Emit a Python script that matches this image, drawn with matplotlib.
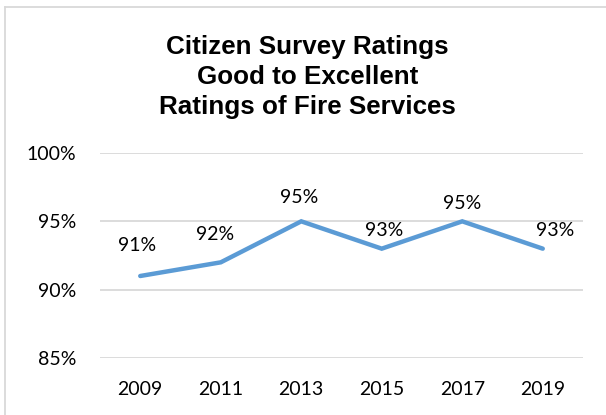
import matplotlib
matplotlib.use("Agg")
import matplotlib.pyplot as plt
from matplotlib.lines import Line2D

years = ["2009", "2011", "2013", "2015", "2017", "2019"]
ratings = [91, 92, 95, 93, 95, 93]
y_ticks = [85, 90, 95, 100]
title_lines = ["Citizen Survey Ratings", "Good to Excellent", "Ratings of Fire Services"]

# label offsets in points (dx, dy) relative to each data point
label_offsets = [(-2.5, 22.3), (-4.3, 20.2), (-1.8, 17.3), (1.8, 13), (0, 13), (9, 13)]

W, H, DPI = 606, 415, 100
fig = plt.figure(figsize=(W / DPI, H / DPI), dpi=DPI)
fig.patch.set_facecolor("white")

# chart frame (top and left edges)
frame_kw = dict(color="#D9D9D9", linewidth=1.3, transform=fig.transFigure)
fig.add_artist(Line2D([5 / W, 1.0], [1 - 7.5 / H, 1 - 7.5 / H], **frame_kw))
fig.add_artist(Line2D([5 / W, 5 / W], [0, 1 - 7.5 / H], **frame_kw))

ax = fig.add_axes([100 / W, 1 - 358 / H, (583 - 100) / W, (358 - 153) / H])
x = list(range(len(years)))
ax.plot(x, ratings, color="#5B9BD5", linewidth=3.2, solid_capstyle="round",
        solid_joinstyle="miter", zorder=3)

ax.set_xlim(-0.5, len(years) - 0.5)
ax.set_ylim(y_ticks[0], y_ticks[-1])
ax.set_yticks(y_ticks)
ax.set_yticklabels([f"{v}%" for v in y_ticks])
ax.set_xticks(x)
ax.set_xticklabels(years)
ax.grid(axis="y", color="#D9D9D9", linewidth=1.3)
ax.set_axisbelow(True)
for s in ax.spines.values():
    s.set_visible(False)
ax.tick_params(length=0, labelsize=14, labelcolor="#000000")
ax.tick_params(axis="y", pad=17)
ax.tick_params(axis="x", pad=16.2)
for lbl in ax.get_xticklabels() + ax.get_yticklabels():
    lbl.set_family(["Lato", "DejaVu Sans"])

for xi, v, (dx, dy) in zip(x, ratings, label_offsets):
    ax.annotate(f"{v}%", (xi, v), xytext=(dx, dy), textcoords="offset points",
                ha="center", va="center", fontsize=14, family=["Lato", "DejaVu Sans"])

fig.text(307.5 / W, 1 - 77 / H, "\n".join(title_lines), ha="center", va="center",
         fontsize=18.7, fontweight="bold", family=["Liberation Sans", "DejaVu Sans"],
         linespacing=1.3)

fig.savefig("out.png", dpi=DPI, facecolor="white")
